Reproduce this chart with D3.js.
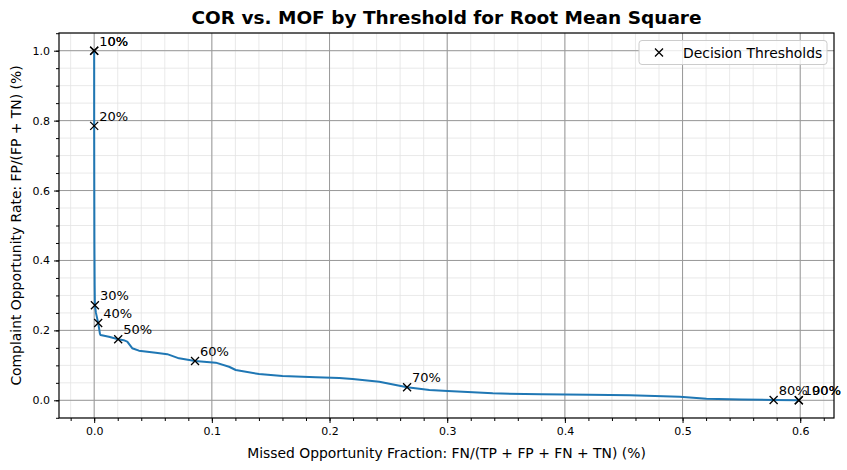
<!DOCTYPE html>
<html>
<head>
<meta charset="utf-8">
<script src="https://cdn.jsdelivr.net/npm/d3@7"></script>
<style>
  body { margin: 0; background: #fff; }
  text { font-family: "DejaVu Sans", sans-serif; fill: #000; }
</style>
</head>
<body>
<svg id="chart" width="847" height="470"></svg>
<script>
// curve: missed opportunity fraction (x) vs complaint opportunity rate (y)
var curveX = [0, 0, 0.0001, 0.0002, 0.0004, 0.0006, 0.0015, 0.0025, 0.0034, 0.0042, 0.0049, 0.0054,
              0.0125, 0.0204, 0.0250, 0.0281, 0.0323, 0.0380, 0.0523, 0.0621, 0.0721, 0.0857,
              0.1033, 0.1146, 0.1203, 0.1401, 0.1600, 0.1884, 0.2083, 0.2196, 0.2423, 0.2659,
              0.2849, 0.3004, 0.3387, 0.3800, 0.4210, 0.4551, 0.4976, 0.5203, 0.5500, 0.5774, 0.5988];
var curveY = [1.0, 0.785, 0.60, 0.45, 0.33, 0.272, 0.250, 0.235, 0.221, 0.205, 0.190, 0.187,
              0.182, 0.1745, 0.172, 0.168, 0.149, 0.142, 0.136, 0.132, 0.120, 0.1124,
              0.1077, 0.096, 0.0867, 0.0752, 0.0695, 0.066, 0.0638, 0.061, 0.053, 0.0372,
              0.0295, 0.0266, 0.020, 0.017, 0.016, 0.0143, 0.0103, 0.0046, 0.002, 0.001, 0.0];

// decision thresholds
var thrLabels = ["0%", "10%", "20%", "30%", "40%", "50%", "60%", "70%", "80%", "90%", "100%"];
var thrX = [0, 0, 0, 0.0006, 0.0034, 0.0204, 0.0857, 0.2659, 0.5774, 0.5988, 0.5988];
var thrY = [1.0, 1.0, 0.785, 0.272, 0.221, 0.1745, 0.1124, 0.0372, 0.001, 0.0, 0.0];

var xTicks = [0.0, 0.1, 0.2, 0.3, 0.4, 0.5, 0.6];
var yTicks = [0.0, 0.2, 0.4, 0.6, 0.8, 1.0];

var svg = d3.select("#chart");
var pL = 59, pR = 834, pT = 33, pB = 418;

var x = d3.scaleLinear().domain([-0.0299, 0.6287]).range([pL, pR]);
var y = d3.scaleLinear().domain([-0.0506, 1.0506]).range([pB, pT]);

var xMinor = d3.range(-0.02, 0.621, 0.02).filter(function (v) { return x(v) >= pL && x(v) <= pR; });
var yMinor = d3.range(-0.05, 1.051, 0.05).filter(function (v) { return y(v) >= pT - 0.5 && y(v) <= pB; });

// minor grid
var g = svg.append("g");
g.selectAll(".mgx").data(xMinor).enter().append("line")
  .attr("x1", function (d) { return x(d); }).attr("x2", function (d) { return x(d); })
  .attr("y1", pT).attr("y2", pB)
  .attr("stroke", "#e3e3e3").attr("stroke-width", 0.8);
g.selectAll(".mgy").data(yMinor).enter().append("line")
  .attr("y1", function (d) { return y(d); }).attr("y2", function (d) { return y(d); })
  .attr("x1", pL).attr("x2", pR)
  .attr("stroke", "#e3e3e3").attr("stroke-width", 0.8);

// major grid
g.selectAll(".gx").data(xTicks).enter().append("line")
  .attr("x1", function (d) { return x(d); }).attr("x2", function (d) { return x(d); })
  .attr("y1", pT).attr("y2", pB)
  .attr("stroke", "#999").attr("stroke-width", 1);
g.selectAll(".gy").data(yTicks).enter().append("line")
  .attr("y1", function (d) { return y(d); }).attr("y2", function (d) { return y(d); })
  .attr("x1", pL).attr("x2", pR)
  .attr("stroke", "#999").attr("stroke-width", 1);

// the curve
var pts = curveX.map(function (v, i) { return [v, curveY[i]]; });
svg.append("path")
  .datum(pts)
  .attr("fill", "none")
  .attr("stroke", "#1f77b4")
  .attr("stroke-width", 2)
  .attr("stroke-linejoin", "round")
  .attr("d", d3.line().x(function (d) { return x(d[0]); }).y(function (d) { return y(d[1]); }));

// threshold markers
var thr = thrLabels.map(function (l, i) { return { label: l, x: thrX[i], y: thrY[i] }; });
var mk = svg.selectAll(".mk").data(thr).enter().append("g")
  .attr("transform", function (d) { return "translate(" + x(d.x) + "," + y(d.y) + ")"; });
mk.append("path")
  .attr("d", "M-4,-4L4,4M-4,4L4,-4")
  .attr("stroke", "#000").attr("stroke-width", 1.3);
var lbl = mk.append("text")
  .attr("x", 5).attr("y", -5)
  .style("font-size", "13px")
  .text(function (d) { return d.label; });

// labels sharing a point line up on their right ends (as in the source)
lbl.each(function (d) { d.w = this.getComputedTextLength(); });
lbl.each(function (d) {
  var same = thr.filter(function (o) { return o.x === d.x && o.y === d.y; });
  if (same.length > 1) {
    var wMax = d3.max(same, function (o) { return o.w; });
    d3.select(this).attr("x", 5 + wMax).attr("text-anchor", "end");
  }
});

// axes frame
svg.append("rect")
  .attr("x", pL).attr("y", pT)
  .attr("width", pR - pL).attr("height", pB - pT)
  .attr("fill", "none").attr("stroke", "#000").attr("stroke-width", 1.2);

// x axis
svg.append("g").attr("transform", "translate(0," + pB + ")")
  .call(d3.axisBottom(x).tickValues(xTicks).tickSize(5).tickPadding(4).tickFormat(d3.format(".1f")));
svg.append("g").attr("transform", "translate(0," + pB + ")")
  .call(d3.axisBottom(x).tickValues(xMinor).tickSize(3).tickFormat(""));

// y axis
svg.append("g").attr("transform", "translate(" + pL + ",0)")
  .call(d3.axisLeft(y).tickValues(yTicks).tickSize(5).tickPadding(4).tickFormat(d3.format(".1f")));
svg.append("g").attr("transform", "translate(" + pL + ",0)")
  .call(d3.axisLeft(y).tickValues(yMinor).tickSize(3).tickFormat(""));

svg.selectAll(".domain").remove();
svg.selectAll(".tick line").attr("stroke", "#000");
svg.selectAll(".tick text").style("font-size", "11px").style("font-family", "DejaVu Sans");

// titles
svg.append("text")
  .attr("x", (pL + pR) / 2).attr("y", 24)
  .attr("text-anchor", "middle")
  .style("font-size", "18.5px").style("font-weight", "bold")
  .text("COR vs. MOF by Threshold for Root Mean Square");

svg.append("text")
  .attr("x", (pL + pR) / 2).attr("y", 458)
  .attr("text-anchor", "middle")
  .style("font-size", "13.9px")
  .text("Missed Opportunity Fraction: FN/(TP + FP + FN + TN) (%)");

svg.append("text")
  .attr("transform", "translate(21," + (pT + pB) / 2 + ") rotate(-90)")
  .attr("text-anchor", "middle")
  .style("font-size", "13.9px")
  .text("Complaint Opportunity Rate: FP/(FP + TN) (%)");

// legend
var lg = svg.append("g").attr("transform", "translate(639,40.5)");
lg.append("rect")
  .attr("width", 188).attr("height", 24).attr("rx", 3)
  .attr("fill", "#fff").attr("fill-opacity", 0.8)
  .attr("stroke", "#ccc");
lg.append("path")
  .attr("d", "M16,8L24,16M16,16L24,8")
  .attr("stroke", "#000").attr("stroke-width", 1.3);
lg.append("text")
  .attr("x", 44).attr("y", 17)
  .style("font-size", "13.9px")
  .text("Decision Thresholds");
</script>
</body>
</html>
